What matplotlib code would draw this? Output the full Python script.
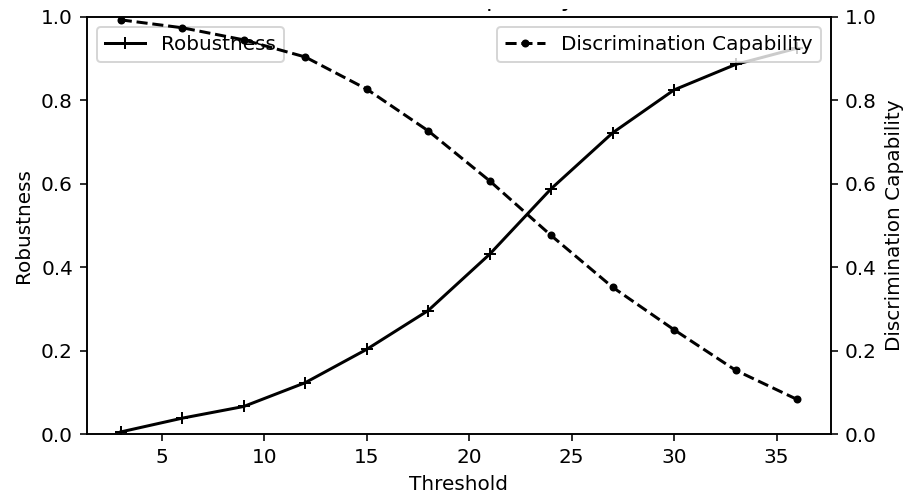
import matplotlib
matplotlib.use('Agg')
import matplotlib.pyplot as plt
from matplotlib.transforms import Bbox, TransformedBbox

# Données
thresholds = [3, 6, 9, 12, 15, 18, 21, 24, 27, 30, 33, 36]
robustness = [0.005, 0.038, 0.066, 0.123, 0.203, 0.296, 0.431, 0.588, 0.722, 0.825, 0.886, 0.925]
discrimination = [0.993, 0.974, 0.945, 0.904, 0.827, 0.727, 0.607, 0.476, 0.352, 0.250, 0.153, 0.083]

fig, ax1 = plt.subplots(figsize=(906 / 144, 498 / 144), dpi=144)
fig.subplots_adjust(left=0.096, right=0.917, top=0.966, bottom=0.1285)

ax1.plot(thresholds, robustness, 'k+-', label='Robustness')
ax1.set_xlabel('Threshold')
ax1.set_ylabel('Robustness')
ax1.set_ylim(0, 1)
ax1.legend(loc='upper left')

ax2 = ax1.twinx()
ax2.plot(thresholds, discrimination, 'k.--', label='Discrimination Capability')
ax2.set_ylabel('Discrimination Capability')
ax2.set_ylim(0, 1)
ax2.legend(loc='upper right')

# titre : sur l'original il est coupé, seules les jambes du p et du y dépassent
title = ax1.set_title('Robustness and Discrimination Capability at Various Thresholds', pad=5.5)
title.set_clip_box(TransformedBbox(Bbox([[0, 0], [1, 1 - 9 / 498]]), fig.transFigure))
title.set_clip_on(True)

plt.savefig('out.png')
